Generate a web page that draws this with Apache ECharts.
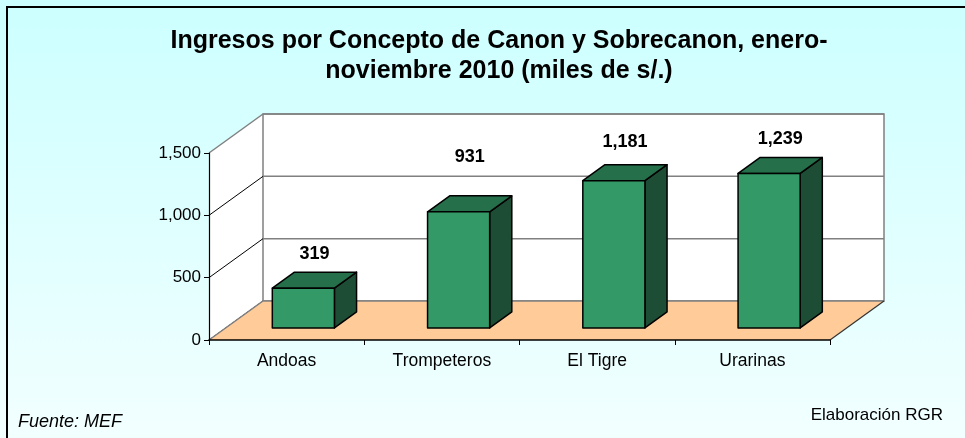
<!DOCTYPE html>
<html>
<head>
<meta charset="utf-8">
<script src="https://cdn.jsdelivr.net/npm/echarts@6/dist/echarts.min.js"></script>
<style>
html,body{margin:0;padding:0;background:#fff;}
#c{width:965px;height:438px;}
</style>
</head>
<body>
<div id="c"></div>
<script>
const categories = ['Andoas', 'Trompeteros', 'El Tigre', 'Urarinas'];
const values = [319, 931, 1181, 1239];
const yTicks = [0, 500, 1000, 1500];
const titleLines = ['Ingresos por Concepto de Canon y Sobrecanon, enero-', 'noviembre 2010 (miles de s/.)'];

// styling (not data)
const labelLift = [0, 21, 5, 0];
const DX = 54, DY = -39;      // depth offset of back wall
const F0 = 0.31, F1 = 0.72;   // bar depth span
const FONT = '"Liberation Sans", Arial, sans-serif';

const chart = echarts.init(document.getElementById('c'), null, {renderer: 'canvas'});

function renderScene(params, api) {
  const cs = params.coordSys;
  const xl = cs.x, xr = cs.x + cs.width;
  const y0 = api.coord([0, 0])[1];
  const yTop = api.coord([0, yTicks[yTicks.length - 1]])[1];
  const ch = [];
  ch.push({type: 'polygon', shape: {points: [[xl, yTop], [xl + DX, yTop + DY], [xl + DX, y0 + DY], [xl, y0]]},
    style: {fill: '#ffffff', stroke: null}});
  ch.push({type: 'rect', shape: {x: xl + DX, y: yTop + DY, width: cs.width, height: y0 - yTop},
    style: {fill: '#ffffff', stroke: '#808080', lineWidth: 1.5}});
  yTicks.forEach(function (t) {
    const y = api.coord([0, t])[1];
    const isTop = t === yTicks[yTicks.length - 1];
    if (t > 0) {
      ch.push({type: 'line', shape: {x1: xl + DX, y1: y + DY, x2: xr + DX, y2: y + DY},
        style: {stroke: '#808080', lineWidth: 1.5}});
    }
    ch.push({type: 'line', shape: {x1: xl, y1: y, x2: xl + DX, y2: y + DY},
      style: {stroke: isTop ? '#808080' : '#000', lineWidth: isTop ? 1.5 : 1}});
  });
  ch.push({type: 'polygon', shape: {points: [[xl, y0], [xr, y0], [xr + DX, y0 + DY], [xl + DX, y0 + DY]]},
    style: {fill: '#FFCC99', stroke: null}});
  ch.push({type: 'polyline', shape: {points: [[xl, y0], [xl + DX, y0 + DY], [xr + DX, y0 + DY]]},
    style: {fill: null, stroke: '#808080', lineWidth: 1.5}});
  ch.push({type: 'line', shape: {x1: xr, y1: y0, x2: xr + DX, y2: y0 + DY},
    style: {stroke: '#333', lineWidth: 1.2}});
  return {type: 'group', children: ch};
}

function renderBar(params, api) {
  const i = api.value(0), v = api.value(1);
  const base = api.coord([i, 0]);
  const band = api.size([1, 0])[0];
  const h = api.size([0, v])[1];
  const w = band * 0.4;
  const x0 = base[0] - w / 2 + DX * F0;
  const y0 = base[1] + DY * F0;
  const ddx = DX * (F1 - F0), ddy = DY * (F1 - F0);
  const yt = y0 - h;
  const st = {stroke: '#000', lineWidth: 1.5, lineJoin: 'round'};
  return {type: 'group', children: [
    {type: 'polygon', shape: {points: [[x0 + w, y0], [x0 + w, yt], [x0 + w + ddx, yt + ddy], [x0 + w + ddx, y0 + ddy]]},
      style: Object.assign({fill: '#1E4D35'}, st)},
    {type: 'polygon', shape: {points: [[x0, yt], [x0 + w, yt], [x0 + w + ddx, yt + ddy], [x0 + ddx, yt + ddy]]},
      style: Object.assign({fill: '#25704B'}, st)},
    {type: 'rect', shape: {x: x0, y: yt, width: w, height: h},
      style: Object.assign({fill: '#339966'}, st)},
    {type: 'text', x: x0 + w / 2 + ddx / 2, y: yt - 34 - labelLift[i],
      style: {text: echarts.format.addCommas(v), fill: '#000', font: 'bold 18px ' + FONT, align: 'center', verticalAlign: 'middle'}}
  ]};
}

chart.setOption({
  animation: false,
  backgroundColor: {type: 'linear', x: 0, y: 0, x2: 0, y2: 1,
    colorStops: [{offset: 0, color: '#CCFFFF'}, {offset: 1, color: '#F2FFFF'}]},
  title: {
    text: titleLines.join('\n'), left: 494, top: 21, textAlign: 'center',
    textStyle: {fontFamily: FONT, fontWeight: 'bold', fontSize: 25, color: '#000', lineHeight: 30}
  },
  graphic: [
    {type: 'polyline', shape: {points: [[7, 438], [7, 7], [965, 7]]}, style: {fill: null, stroke: '#000', lineWidth: 2}, z: 100},
    {type: 'text', left: 18, top: 413, style: {text: 'Fuente: MEF', font: 'italic 18px ' + FONT, fill: '#000'}},
    {type: 'text', right: 22, top: 407, style: {text: 'Elaboración RGR', font: '17px ' + FONT, fill: '#000'}}
  ],
  grid: {left: 209, right: 135, top: 153, bottom: 98, containLabel: false},
  xAxis: {
    type: 'category', data: categories, boundaryGap: true,
    axisLine: {lineStyle: {color: '#000', width: 1.5}},
    axisTick: {show: true, length: 5, lineStyle: {color: '#000'}},
    axisLabel: {fontFamily: FONT, fontSize: 17.5, color: '#000', margin: 12},
    z: 10
  },
  yAxis: {
    type: 'value', min: 0, max: 1500, interval: 500,
    axisLine: {show: true, lineStyle: {color: '#000', width: 1.2}},
    axisTick: {show: true, length: 5, lineStyle: {color: '#000'}},
    splitLine: {show: false},
    axisLabel: {fontFamily: FONT, fontSize: 17, color: '#000', margin: 8, formatter: function (v) { return echarts.format.addCommas(v); }},
    z: 10
  },
  series: [
    {type: 'custom', renderItem: renderScene, data: [[0]], clip: false, silent: true, z: 1},
    {type: 'custom', renderItem: renderBar, data: values.map(function (v, i) { return [i, v]; }), clip: false, z: 5,
      encode: {x: 0, y: 1}}
  ]
});
</script>
</body>
</html>
